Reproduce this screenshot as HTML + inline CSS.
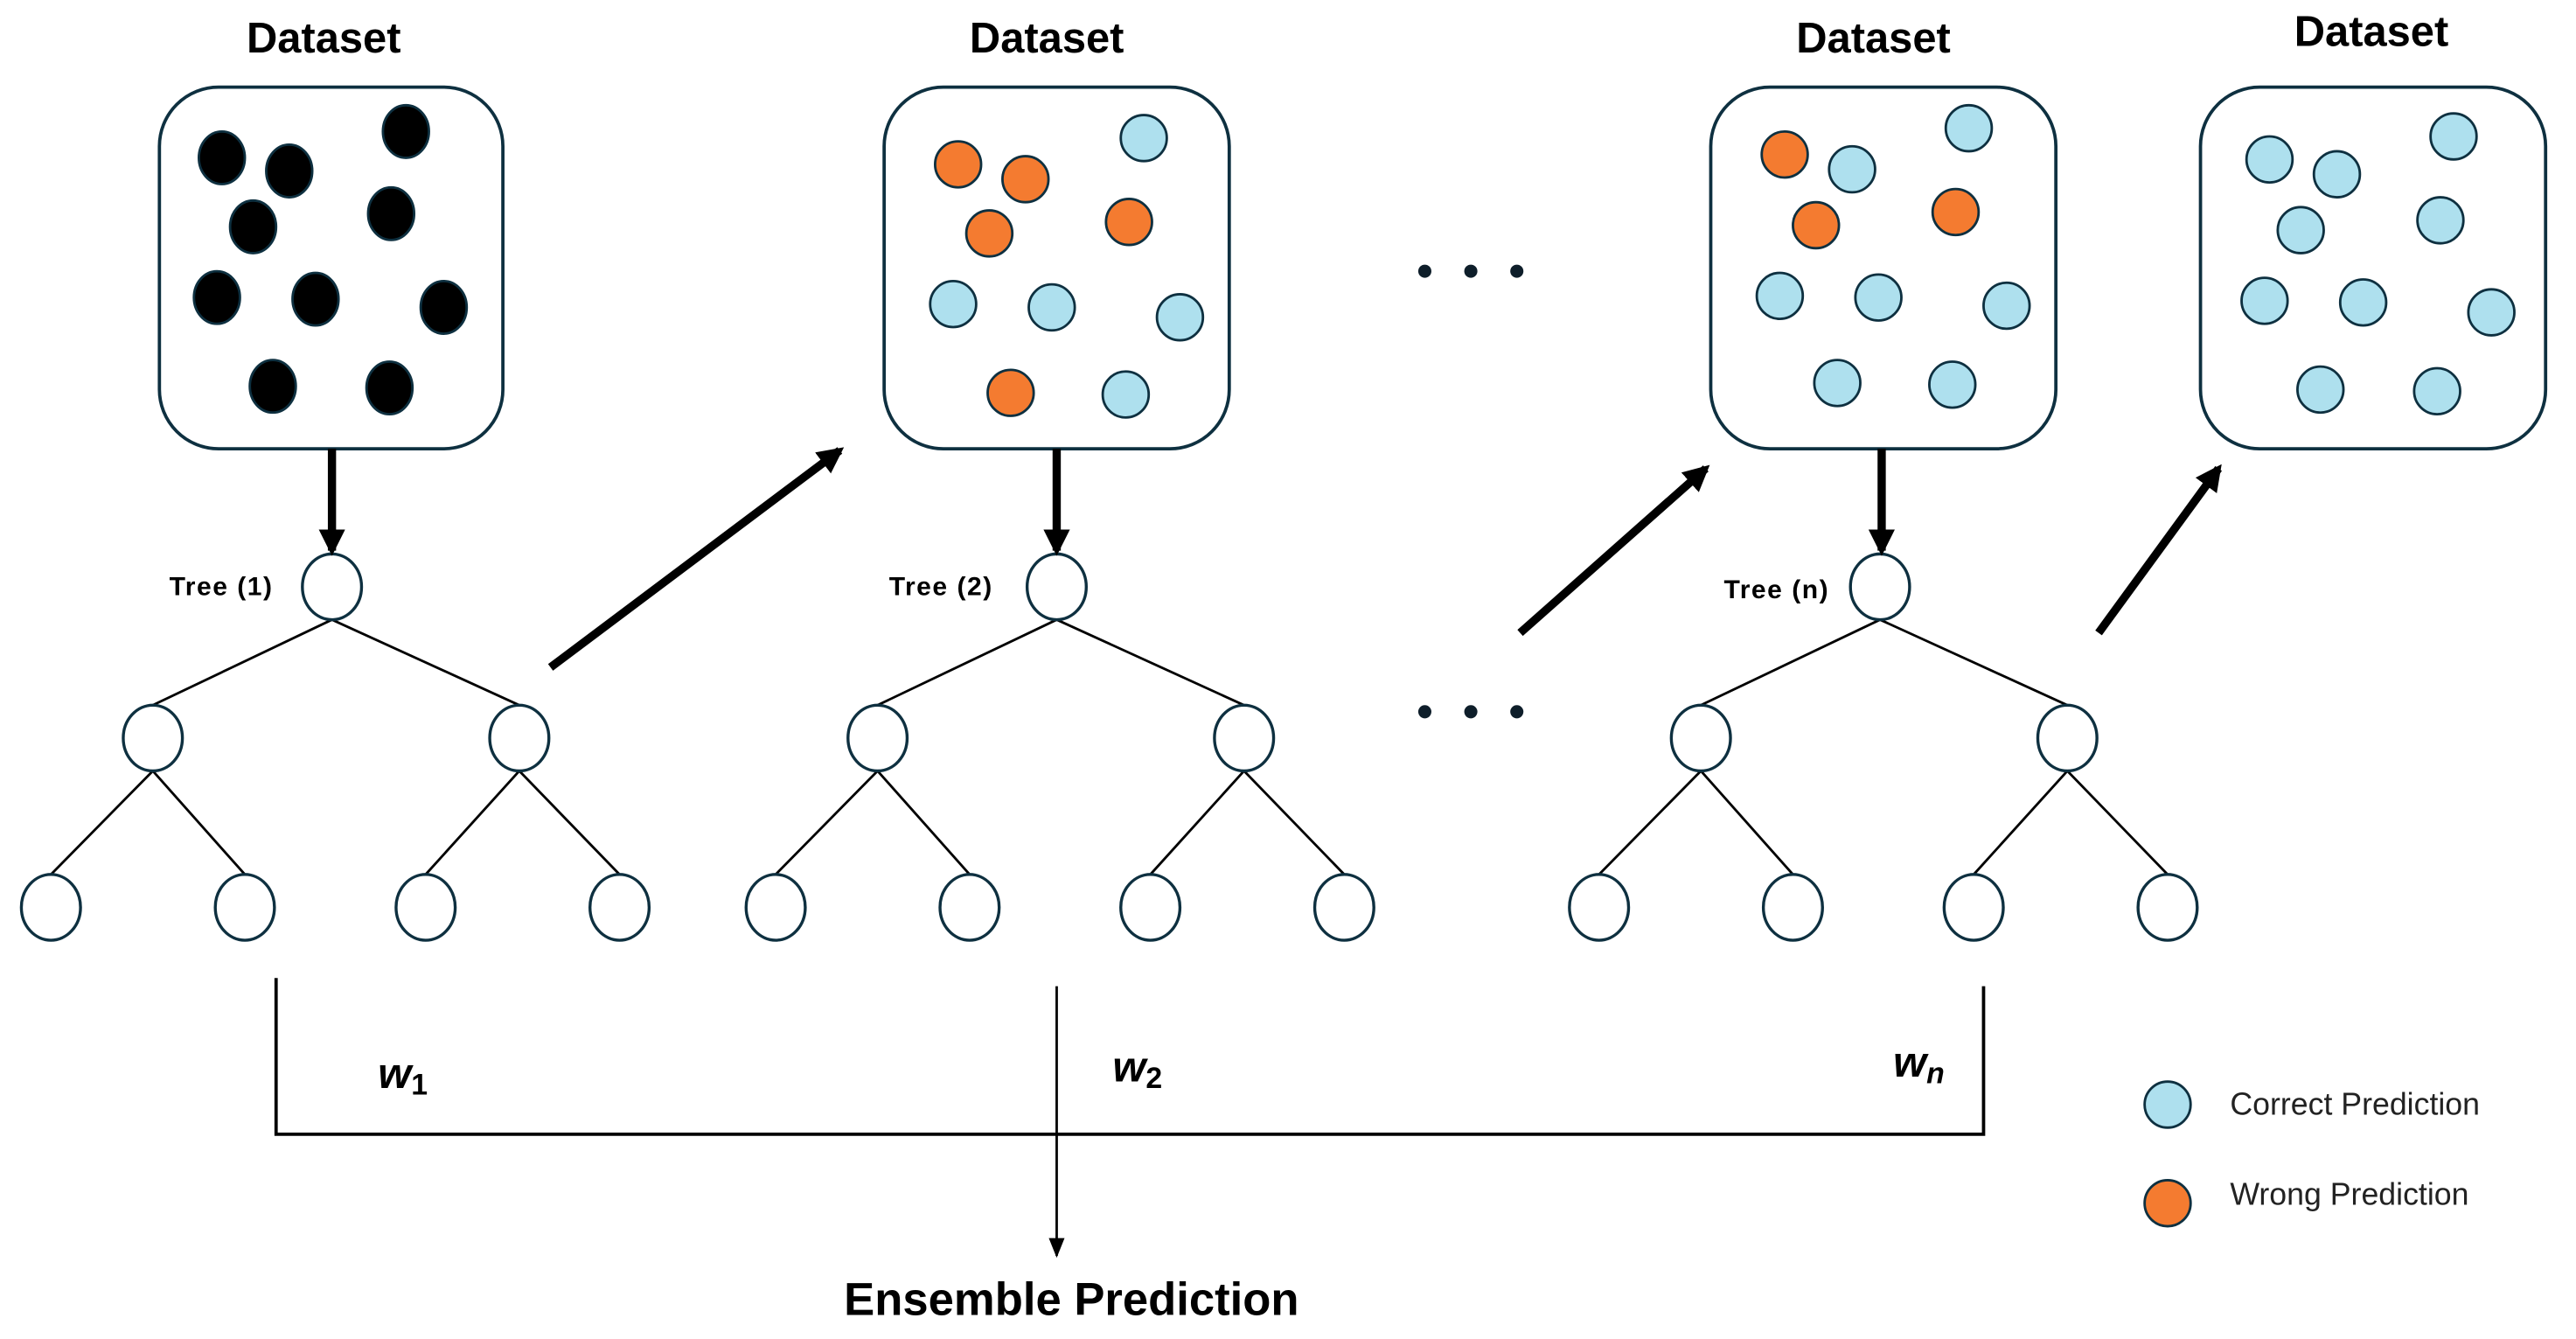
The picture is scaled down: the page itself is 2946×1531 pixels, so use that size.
<!DOCTYPE html>
<html><head><meta charset="utf-8"><style>
html,body{margin:0;padding:0;background:#fff;}
svg{display:block;}
text{font-family:"Liberation Sans","DejaVu Sans",sans-serif;}
</style></head><body>
<svg width="2946" height="1531" viewBox="0 0 1567.5 814.6" preserveAspectRatio="none" xmlns="http://www.w3.org/2000/svg">
<defs>
<marker id="ah" viewBox="0 0 10 10" refX="8" refY="5" markerWidth="3.2" markerHeight="3.2" orient="auto"><path d="M0,0 L10,5 L0,10 z" fill="#000"/></marker>
<marker id="ah2" viewBox="0 0 10 10" refX="9" refY="5" markerWidth="8" markerHeight="8" orient="auto"><path d="M0,1 L10,5 L0,9 z" fill="#000"/></marker>
</defs>
<g font-weight="bold" font-size="26" text-anchor="middle" fill="#000">
<text x="197" y="32">Dataset</text><text x="637" y="32">Dataset</text><text x="1140" y="32">Dataset</text><text x="1443" y="28">Dataset</text>
</g>
<g fill="#fff" stroke="#0e3040" stroke-width="2">
<rect x="97" y="53" width="209" height="220" rx="36"/>
<rect x="538" y="53" width="210" height="220" rx="36"/>
<rect x="1041" y="53" width="210" height="220" rx="36"/>
<rect x="1339" y="53" width="210" height="220" rx="36"/>
</g>
<g fill="#000" stroke="#0e3040" stroke-width="1.5">
<ellipse cx="135" cy="96" rx="14" ry="16"/><ellipse cx="176" cy="104" rx="14" ry="16"/><ellipse cx="247" cy="80" rx="14" ry="16"/><ellipse cx="154" cy="138" rx="14" ry="16"/><ellipse cx="238" cy="130" rx="14" ry="16"/><ellipse cx="132" cy="181" rx="14" ry="16"/><ellipse cx="192" cy="182" rx="14" ry="16"/><ellipse cx="270" cy="187" rx="14" ry="16"/><ellipse cx="166" cy="235" rx="14" ry="16"/><ellipse cx="237" cy="236" rx="14" ry="16"/>
</g>
<g fill="#f47b30" stroke="#0e3040" stroke-width="1.5">
<ellipse cx="583" cy="100" rx="14" ry="14"/><ellipse cx="624" cy="109" rx="14" ry="14"/><ellipse cx="602" cy="142" rx="14" ry="14"/><ellipse cx="687" cy="135" rx="14" ry="14"/><ellipse cx="615" cy="239" rx="14" ry="14"/>
<ellipse cx="1086" cy="94" rx="14" ry="14"/><ellipse cx="1105" cy="137" rx="14" ry="14"/><ellipse cx="1190" cy="129" rx="14" ry="14"/>
<ellipse cx="1319" cy="732" rx="14" ry="14"/>
</g>
<g fill="#aee0ee" stroke="#0e3040" stroke-width="1.5">
<ellipse cx="696" cy="84" rx="14" ry="14"/><ellipse cx="580" cy="185" rx="14" ry="14"/><ellipse cx="640" cy="187" rx="14" ry="14"/><ellipse cx="718" cy="193" rx="14" ry="14"/><ellipse cx="685" cy="240" rx="14" ry="14"/>
<ellipse cx="1198" cy="78" rx="14" ry="14"/><ellipse cx="1127" cy="103" rx="14" ry="14"/><ellipse cx="1083" cy="180" rx="14" ry="14"/><ellipse cx="1143" cy="181" rx="14" ry="14"/><ellipse cx="1221" cy="186" rx="14" ry="14"/><ellipse cx="1118" cy="233" rx="14" ry="14"/><ellipse cx="1188" cy="234" rx="14" ry="14"/>
<ellipse cx="1381" cy="97" rx="14" ry="14"/><ellipse cx="1422" cy="106" rx="14" ry="14"/><ellipse cx="1493" cy="83" rx="14" ry="14"/><ellipse cx="1400" cy="140" rx="14" ry="14"/><ellipse cx="1485" cy="134" rx="14" ry="14"/><ellipse cx="1378" cy="183" rx="14" ry="14"/><ellipse cx="1438" cy="184" rx="14" ry="14"/><ellipse cx="1516" cy="190" rx="14" ry="14"/><ellipse cx="1412" cy="237" rx="14" ry="14"/><ellipse cx="1483" cy="238" rx="14" ry="14"/>
<ellipse cx="1319" cy="672" rx="14" ry="14"/>
</g>
<g id="t1">
<g stroke="#000" stroke-width="1.5">
<line x1="202" y1="377" x2="93" y2="429"/><line x1="202" y1="377" x2="316" y2="429"/>
<line x1="93" y1="469" x2="31" y2="532"/><line x1="93" y1="469" x2="149" y2="532"/>
<line x1="316" y1="469" x2="259" y2="532"/><line x1="316" y1="469" x2="377" y2="532"/>
</g>
<g fill="#fff" stroke="#0e3040" stroke-width="1.8">
<ellipse cx="202" cy="357" rx="18" ry="20"/><ellipse cx="93" cy="449" rx="18" ry="20"/><ellipse cx="316" cy="449" rx="18" ry="20"/>
<ellipse cx="31" cy="552" rx="18" ry="20"/><ellipse cx="149" cy="552" rx="18" ry="20"/><ellipse cx="259" cy="552" rx="18" ry="20"/><ellipse cx="377" cy="552" rx="18" ry="20"/>
</g>
</g>
<use href="#t1" x="441"/>
<use href="#t1" x="942"/>
<g font-weight="bold" font-size="16" fill="#000" letter-spacing="0.8">
<text x="103" y="362">Tree (1)</text><text x="541" y="362">Tree (2)</text><text x="1049" y="364">Tree (n)</text>
</g>
<g stroke="#000" stroke-width="5" marker-end="url(#ah)">
<line x1="202" y1="273" x2="202" y2="335"/>
<line x1="643" y1="273" x2="643" y2="335"/>
<line x1="1145" y1="273" x2="1145" y2="335"/>
<line x1="335" y1="406" x2="511" y2="274"/>
<line x1="925" y1="385" x2="1038" y2="285"/>
<line x1="1277" y1="385" x2="1350" y2="285"/>
</g>
<g fill="#0e1e2a">
<circle cx="867" cy="165" r="4"/><circle cx="895" cy="165" r="4"/><circle cx="923" cy="165" r="4"/>
<circle cx="867" cy="433" r="4"/><circle cx="895" cy="433" r="4"/><circle cx="923" cy="433" r="4"/>
</g>
<g stroke="#000" stroke-width="2" fill="none">
<polyline points="168,595 168,690 1207,690 1207,600"/>
<line x1="643" y1="600" x2="643" y2="764" stroke-width="1.5" marker-end="url(#ah2)"/>
</g>
<g font-family="Liberation Serif,serif" font-style="italic" font-weight="bold" font-size="26" fill="#000">
<text x="230" y="662">w<tspan font-size="18" font-style="normal" dy="4">1</tspan></text>
<text x="677" y="658">w<tspan font-size="18" font-style="normal" dy="4">2</tspan></text>
<text x="1152" y="655">w<tspan font-size="18" dy="4">n</tspan></text>
</g>
<text x="652" y="800" text-anchor="middle" font-weight="bold" font-size="28">Ensemble Prediction</text>
<g font-size="19" fill="#222">
<text x="1357" y="678">Correct Prediction</text>
<text x="1357" y="733">Wrong Prediction</text>
</g>
</svg>
</body></html>
